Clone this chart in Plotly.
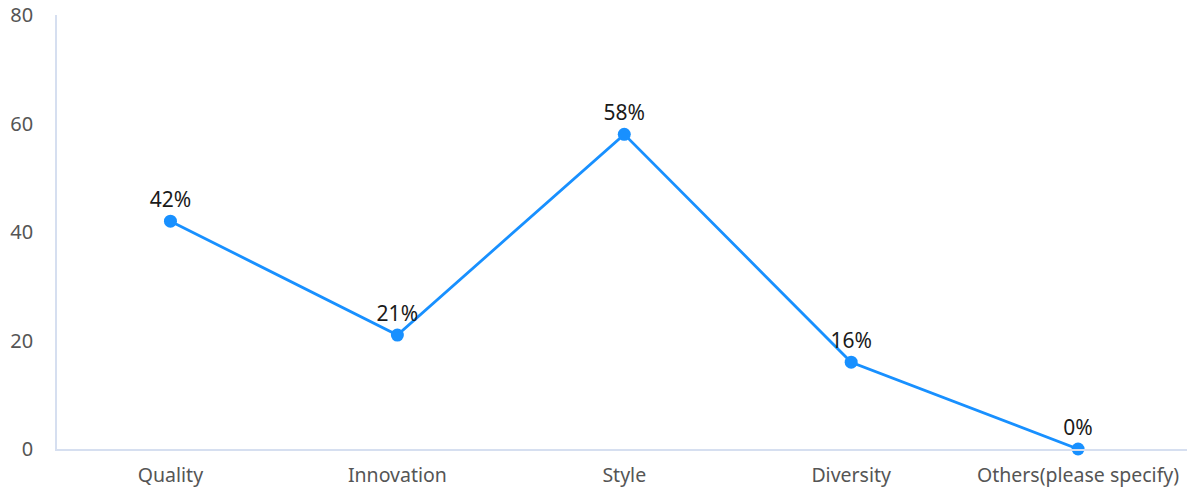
import plotly.graph_objects as go

categories = ["Quality", "Innovation", "Style", "Diversity", "Others(please specify)"]
values = [42, 21, 58, 16, 0]
labels = [f"{v}%" for v in values]
y_ticks = [0, 20, 40, 60, 80]

FONT = "Noto Sans, DejaVu Sans, sans-serif"
AXIS_COLOR = "#d6dff0"

fig = go.Figure()
fig.add_trace(go.Scatter(
    x=categories, y=values, mode="lines+markers+text",
    text=labels, textposition="top center",
    textfont=dict(family=FONT, size=21, color="#1a1a1a"),
    line=dict(color="#1890ff", width=2.8),
    marker=dict(color="#1890ff", size=13),
    cliponaxis=False, hoverinfo="x+y",
))

fig.update_layout(
    width=1187, height=488,
    margin=dict(l=57, r=0, t=15, b=39, autoexpand=False),
    paper_bgcolor="white", plot_bgcolor="white",
    showlegend=False,
    font=dict(family=FONT, size=20, color="#555555"),
    xaxis=dict(
        type="category", range=[-0.5, 4.48], automargin=False,
        showgrid=False, showline=True, linecolor=AXIS_COLOR, linewidth=1.5,
        ticks="", zeroline=False, ticklabelstandoff=8,
        tickfont=dict(family=FONT, size=19.5, color="#555555"),
    ),
    yaxis=dict(
        range=[0, 80], tickvals=y_ticks, automargin=False,
        showgrid=False, showline=True, linecolor=AXIS_COLOR, linewidth=1.5,
        ticks="", zeroline=False, ticklabelstandoff=18,
        tickfont=dict(family=FONT, size=20, color="#555555"),
    ),
)

fig.write_html(
    "out.html",
    config={"displayModeBar": False},
    post_script="document.body.style.margin='0';document.body.style.overflow='hidden';",
)
